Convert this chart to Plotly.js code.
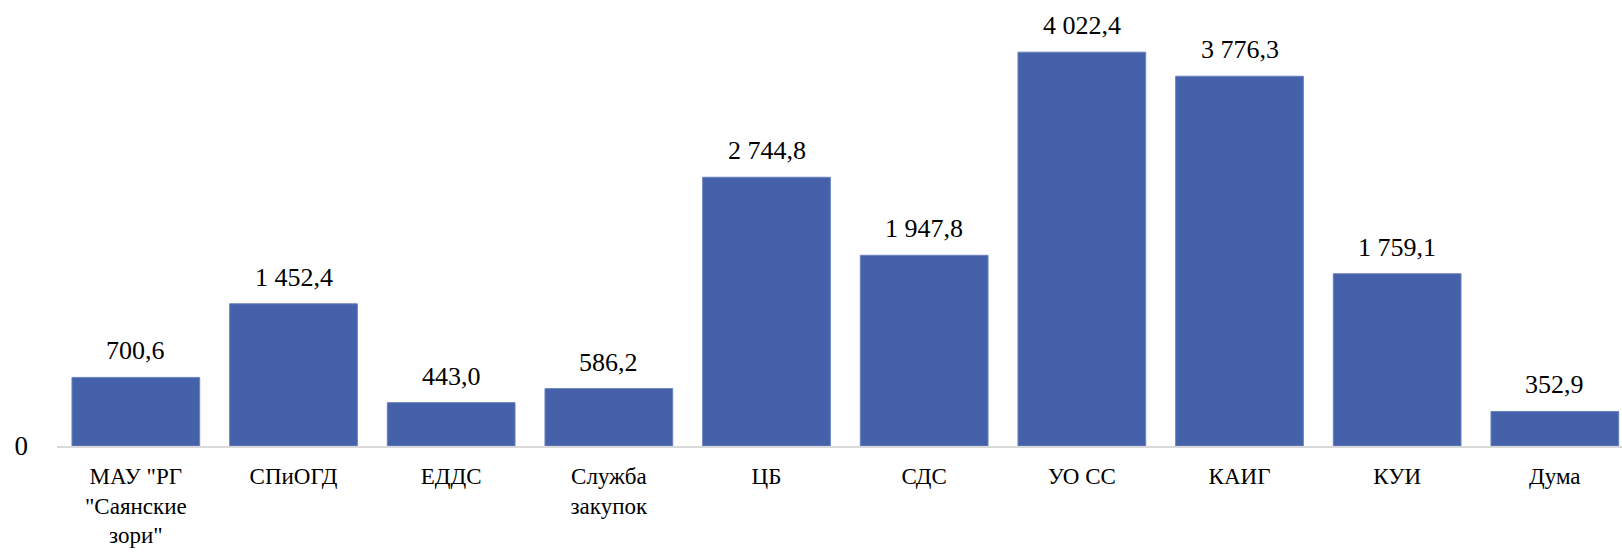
<!DOCTYPE html>
<html><head><meta charset="utf-8">
<script src="https://cdn.plot.ly/plotly-3.0.1.min.js"></script>
<style>html,body{margin:0;padding:0;background:#fff}#chart{width:1622px;height:555px}</style>
</head><body><div id="chart"></div>
<script>
const categories = ['МАУ "РГ<br>"Саянские<br>зори"', 'СПиОГД', 'ЕДДС', 'Служба<br>закупок', 'ЦБ', 'СДС', 'УО СС', 'КАИГ', 'КУИ', 'Дума'];
const values = [700.6, 1452.4, 443.0, 586.2, 2744.8, 1947.8, 4022.4, 3776.3, 1759.1, 352.9];
const yTickVals = [0];
const yTickText = ['0'];

const SERIF = 'Liberation Serif, Times New Roman, serif';

function fmt(v) {
  const s = v.toFixed(1).split('.');
  const int = s[0].replace(/\B(?=(\d{3})+(?!\d))/g, ' ');
  return int + ',' + s[1];
}

const annotations = categories.map((c, i) => ({
  x: c, y: values[i], xref: 'x', yref: 'y',
  text: fmt(values[i]), showarrow: false,
  yanchor: 'bottom', yshift: 10,
  font: {family: SERIF, size: 26, color: '#000000'}
}));

Plotly.newPlot('chart', [{
  type: 'bar',
  x: categories,
  y: values,
  marker: {color: '#4461aa', line: {color: '#6a82c0', width: 1}},
  hoverinfo: 'skip'
}], {
  width: 1622, height: 555,
  margin: {l: 57, r: 0, t: 10, b: 109},
  bargap: 0.19,
  paper_bgcolor: '#fff', plot_bgcolor: '#fff',
  font: {family: SERIF, size: 26, color: '#000000'},
  showlegend: false,
  annotations: annotations,
  xaxis: {
    type: 'category',
    range: [-0.5, 9.426],
    showline: true, linecolor: '#d9d9d9', linewidth: 2,
    showgrid: false, zeroline: false,
    ticks: '', ticklabelstandoff: 8,
    tickfont: {family: SERIF, size: 23, color: '#000000'}, tickangle: 0
  },
  yaxis: {
    range: [0, 4453],
    showline: false, showgrid: false, zeroline: false,
    tickvals: yTickVals, ticktext: yTickText,
    ticks: '', ticklabelstandoff: 28,
    tickfont: {family: SERIF, size: 27, color: '#000000'}
  }
}, {staticPlot: true});
</script></body></html>
